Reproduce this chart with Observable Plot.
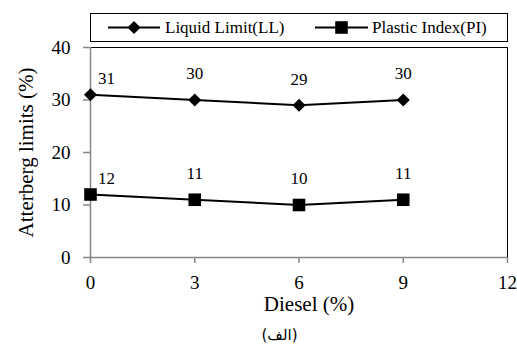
<!DOCTYPE html>
<html><head><meta charset="utf-8">
<script src="https://cdn.jsdelivr.net/npm/d3@7"></script>
<script src="https://cdn.jsdelivr.net/npm/@observablehq/plot@0.6"></script>
<style>
body{margin:0;background:#fff;}
#wrap{position:relative;width:517px;height:354px;font-family:"Liberation Serif","Times New Roman",Times,"DejaVu Serif",serif;overflow:hidden;}
#legend{position:absolute;left:90px;top:13px;}
#caption{position:absolute;left:0;width:559px;top:326px;text-align:center;font-family:"DejaVu Sans",sans-serif;font-size:15px;}
</style></head><body><div id="wrap"><div id="chart"></div><div id="legend"></div><div id="caption"></div></div>
<script>
const diesel = [0, 3, 6, 9];
const liquidLimit = [31, 30, 29, 30];
const plasticIndex = [12, 11, 10, 11];
const seriesNames = ["Liquid Limit(LL)", "Plastic Index(PI)"];
const seriesSymbols = ["diamond2", "square"];
const xTicks = [0, 3, 6, 9, 12];
const yTicks = [0, 10, 20, 30, 40];
const xTitle = "Diesel (%)";
const yTitle = "Atterberg limits (%)";
const captionText = "(الف)";

const serif = `"Liberation Serif","Times New Roman",Times,"DejaVu Serif",serif`;
const ll = diesel.map((d, i) => ({x: d, v: liquidLimit[i]}));
const pi = diesel.map((d, i) => ({x: d, v: plasticIndex[i]}));
const grey = "#878787";
const xMax = xTicks[xTicks.length - 1];
const yMax = yTicks[yTicks.length - 1];

function labels(arr) {
  return [
    Plot.text(arr.filter(d => d.x === diesel[0]), {x: "x", y: "v", text: d => String(d.v), dx: 16, dy: -16, fontSize: 17, fill: "black", fontFamily: serif}),
    Plot.text(arr.filter(d => d.x !== diesel[0]), {x: "x", y: "v", text: d => String(d.v), dy: -26, fontSize: 17, fill: "black", fontFamily: serif})
  ];
}

const plot = Plot.plot({
  width: 517, height: 320,
  marginLeft: 90, marginRight: 10, marginTop: 47, marginBottom: 63,
  style: {fontFamily: serif, fontSize: "19px", background: "white", color: "black", overflow: "visible"},
  x: {domain: [0, xMax]},
  y: {domain: [0, yMax]},
  marks: [
    Plot.ruleY([yMax], {stroke: "black", strokeWidth: 1}),
    Plot.ruleX([xMax], {stroke: "black", strokeWidth: 1}),
    Plot.ruleX([0], {stroke: grey, strokeWidth: 1.5}),
    Plot.ruleY([0], {stroke: grey, strokeWidth: 1.5}),
    Plot.axisX({ticks: xTicks, tickSize: 6, tickPadding: 12, stroke: grey, strokeWidth: 1.5, fill: "black", fontSize: 19, fontFamily: serif, tickFormat: d => String(d), label: null}),
    Plot.axisY({ticks: yTicks, tickSize: 7, tickPadding: 13, stroke: grey, strokeWidth: 1.5, fill: "black", fontSize: 19, fontFamily: serif, tickFormat: d => String(d), label: null}),
    Plot.text([xTitle], {frameAnchor: "bottom", text: d => d, dx: 10, dy: 53, fontSize: 21, fill: "black", fontFamily: serif}),
    Plot.text([yTitle], {frameAnchor: "left", textAnchor: "middle", text: d => d, rotate: -90, dx: -64, fontSize: 21, fill: "black", fontFamily: serif}),
    Plot.line(ll, {x: "x", y: "v", stroke: "black", strokeWidth: 2}),
    Plot.line(pi, {x: "x", y: "v", stroke: "black", strokeWidth: 2}),
    Plot.dot(ll, {x: "x", y: "v", symbol: seriesSymbols[0], r: 5.9, fill: "black", stroke: "none"}),
    Plot.dot(pi, {x: "x", y: "v", symbol: seriesSymbols[1], r: 7.1, fill: "black", stroke: "none"}),
    ...labels(ll),
    ...labels(pi)
  ]
});
document.getElementById("chart").appendChild(plot);

// Legend
const lw = 418, lh = 29;
const leg = d3.select("#legend").append("svg").attr("width", lw).attr("height", lh);
leg.append("rect").attr("x", 0.5).attr("y", 0.5).attr("width", lw - 1).attr("height", lh - 1).attr("fill", "white").attr("stroke", "black");
const items = [{x0: 18, x1: 70, tx: 75}, {x0: 225, x1: 278, tx: 282}];
const symSizes = [Math.PI * 5.9 * 5.9, Math.PI * 7.1 * 7.1];
const symTypes = [d3.symbolDiamond2, d3.symbolSquare];
items.forEach((it, i) => {
  const g = leg.append("g");
  g.append("line").attr("x1", it.x0).attr("x2", it.x1).attr("y1", lh / 2).attr("y2", lh / 2).attr("stroke", "black").attr("stroke-width", 2);
  g.append("path").attr("d", d3.symbol(symTypes[i], symSizes[i])()).attr("transform", `translate(${(it.x0 + it.x1) / 2},${lh / 2})`).attr("fill", "black");
  g.append("text").attr("x", it.tx).attr("y", lh / 2).attr("dy", "0.35em").attr("font-family", serif).attr("font-size", 17).text(seriesNames[i]);
});
document.getElementById("caption").textContent = captionText;
</script></body></html>
